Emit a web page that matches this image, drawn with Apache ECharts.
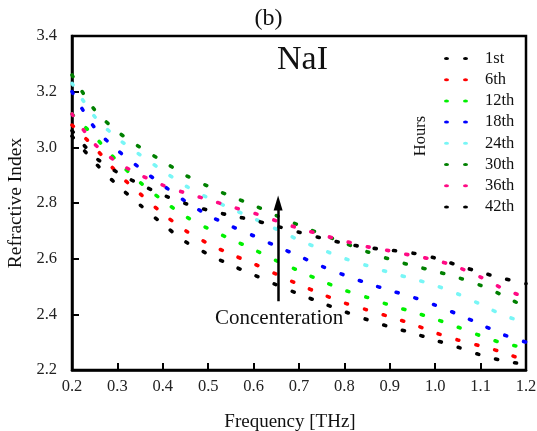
<!DOCTYPE html>
<html>
<head>
<meta charset="utf-8">
<script src="https://cdn.jsdelivr.net/npm/echarts@6/dist/echarts.min.js"></script>
<style>
  html, body { margin: 0; padding: 0; background: #fff; }
  #chart { width: 537px; height: 431px; }
</style>
</head>
<body>
<div id="chart"></div>
<script>
// Frequency grid (THz) shared by every curve
const frequency = [0.20, 0.25, 0.30, 0.35, 0.40, 0.45, 0.50, 0.55, 0.60, 0.65, 0.70,
                   0.75, 0.80, 0.85, 0.90, 0.95, 1.00, 1.05, 1.10, 1.15, 1.20];

// Refractive index of NaI solution, one curve per elapsed hour
const hour1  = [3.04, 2.946, 2.864, 2.793, 2.724, 2.661, 2.616, 2.577, 2.542, 2.506, 2.473,
                2.441, 2.410, 2.381, 2.355, 2.333, 2.307, 2.282, 2.254, 2.233, 2.220];
const hour6  = [3.08, 2.999, 2.908, 2.833, 2.762, 2.701, 2.654, 2.616, 2.582, 2.544, 2.507,
                2.473, 2.441, 2.416, 2.391, 2.365, 2.334, 2.308, 2.286, 2.263, 2.232];
const hour12 = [3.12, 3.038, 2.950, 2.874, 2.809, 2.752, 2.708, 2.670, 2.633, 2.593, 2.556,
                2.520, 2.487, 2.461, 2.433, 2.409, 2.383, 2.354, 2.323, 2.296, 2.280];
const hour18 = [3.20, 3.070, 2.990, 2.925, 2.864, 2.806, 2.756, 2.717, 2.682, 2.645, 2.609,
                2.573, 2.541, 2.512, 2.486, 2.462, 2.433, 2.400, 2.364, 2.327, 2.300];
const hour24 = [3.23, 3.110, 3.033, 2.973, 2.916, 2.862, 2.818, 2.780, 2.745, 2.706, 2.667,
                2.633, 2.601, 2.575, 2.550, 2.528, 2.504, 2.473, 2.436, 2.397, 2.370];
const hour30 = [3.26, 3.134, 3.057, 3.000, 2.950, 2.900, 2.860, 2.824, 2.792, 2.755, 2.720,
                2.688, 2.656, 2.625, 2.598, 2.575, 2.555, 2.532, 2.504, 2.467, 2.425];
const hour36 = [3.12, 3.012, 2.946, 2.901, 2.864, 2.836, 2.812, 2.787, 2.764, 2.736, 2.709,
                2.686, 2.663, 2.643, 2.628, 2.611, 2.595, 2.569, 2.534, 2.492, 2.460];
const hour42 = [3.06, 2.966, 2.910, 2.867, 2.829, 2.798, 2.774, 2.755, 2.738, 2.717, 2.695,
                2.674, 2.655, 2.640, 2.631, 2.620, 2.602, 2.576, 2.551, 2.529, 2.510];

const seriesNames  = ['1st', '6th', '12th', '18th', '24th', '30th', '36th', '42th'];
const seriesValues = [hour1, hour6, hour12, hour18, hour24, hour30, hour36, hour42];
const seriesColors = ['#000000', '#ff0000', '#00f000', '#0000ff', '#78f6f6', '#008000', '#ff0a84', '#000000'];

// Axis ranges and ticks
const xMin = 0.2, xMax = 1.2, xStep = 0.1;
const yMin = 2.2, yMax = 3.4, yStep = 0.2;

// Arrow marking increasing concentration (frequency, start index, end index)
const arrowFreq = 0.654;
const arrowFrom = 2.447;
const arrowTo = 2.80;

const serif = '"Liberation Serif", "DejaVu Serif", serif';

const chart = echarts.init(document.getElementById('chart'), null, { renderer: 'canvas' });

const series = seriesNames.map((name, i) => ({
  name: name,
  type: 'line',
  data: frequency.map((f, k) => [f, seriesValues[i][k]]),
  showSymbol: false,
  smooth: 0.3,
  color: seriesColors[i],
  lineStyle: { width: 3.6, color: seriesColors[i], type: [2, 17.5], cap: 'round' },
  silent: true,
  z: 2
}));

series[0].markLine = {
  silent: true,
  symbol: ['none', 'triangle'],
  symbolSize: [9, 15],
  lineStyle: { color: '#000', width: 2.5, type: 'solid' },
  label: { show: false },
  animation: false,
  data: [[{ coord: [arrowFreq, arrowFrom] }, { coord: [arrowFreq, arrowTo] }]]
};

const legendIcon = 'path://M0,1.5a2.5,1.5 0 1,0 5,0a2.5,1.5 0 1,0 -5,0zM19,1.5a2.5,1.5 0 1,0 5,0a2.5,1.5 0 1,0 -5,0z';

chart.setOption({
  animation: false,
  backgroundColor: '#fff',
  grid: {
    left: 72, right: 11, top: 36, bottom: 61,
    outerBoundsMode: 'none', containLabel: false,
    show: true, borderColor: '#000', borderWidth: 2.5, backgroundColor: 'transparent'
  },
  xAxis: {
    type: 'value', min: xMin, max: xMax, interval: xStep,
    name: 'Frequency [THz]', nameLocation: 'middle', nameGap: 43,
    nameTextStyle: { fontFamily: serif, fontSize: 19, color: '#111', padding: [0, 18, 0, 0] },
    axisLine: { show: true, lineStyle: { color: '#000', width: 2.5 } },
    axisTick: { show: true, inside: true, length: 7, lineStyle: { color: '#000', width: 2 } },
    axisLabel: { fontFamily: serif, fontSize: 16.5, color: '#222', margin: 8,
                 formatter: v => v.toFixed(1) },
    splitLine: { show: false }
  },
  yAxis: {
    type: 'value', min: yMin, max: yMax, interval: yStep,
    name: 'Refractive Index', nameLocation: 'middle', nameGap: 42,
    nameTextStyle: { fontFamily: serif, fontSize: 19.5, color: '#111' },
    axisLine: { show: true, lineStyle: { color: '#000', width: 2.5 } },
    axisTick: { show: true, inside: true, length: 7, lineStyle: { color: '#000', width: 2 } },
    axisLabel: { fontFamily: serif, fontSize: 16.5, color: '#222', margin: 15,
                 formatter: v => v.toFixed(1) },
    splitLine: { show: false }
  },
  legend: {
    data: seriesNames.map(n => ({ name: n, icon: legendIcon })),
    orient: 'vertical',
    left: 439, top: 45,
    itemWidth: 24, itemHeight: 3, itemGap: 4.2,
    selectedMode: false,
    textStyle: { fontFamily: serif, fontSize: 16.5, color: '#111', padding: [0, 0, 0, 12] }
  },
  title: {
    text: '(b)', left: 'center', top: 2,
    textStyle: { fontFamily: serif, fontSize: 24, fontWeight: 'normal', color: '#111' }
  },
  graphic: [
    { type: 'text', left: 277, top: 43, silent: true,
      style: { text: 'NaI', font: '34px ' + serif, fill: '#111' } },
    { type: 'text', x: 421, y: 136, rotation: Math.PI / 2, silent: true,
      style: { text: 'Hours', font: '16.5px ' + serif, fill: '#111', align: 'center', verticalAlign: 'middle' } },
    { type: 'text', left: 215, top: 308, silent: true,
      style: { text: 'Concenteration', font: '21px ' + serif, fill: '#111' } }
  ],
  series: series
});
</script>
</body>
</html>
